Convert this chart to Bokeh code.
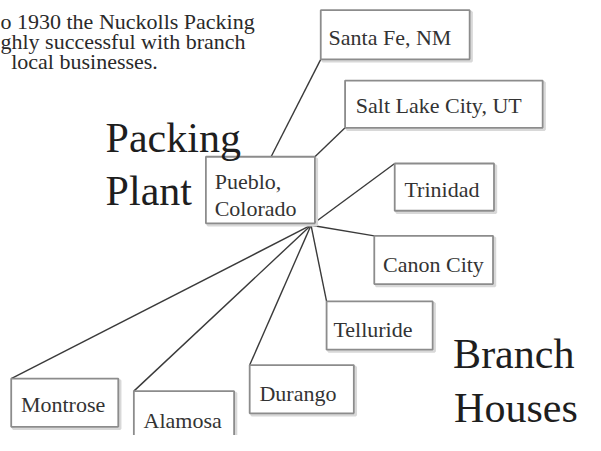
from bokeh.plotting import figure
from bokeh.models import Range1d
from bokeh.core.properties import value
from bokeh.embed import file_html
from bokeh.resources import INLINE

# --- data (diagram layout, image pixel coordinates) ---
intro_lines = ["o 1930 the Nuckolls Packing", "ghly successful with branch", "local businesses."]
intro_x = [0, 0, 11]
intro_y = [22, 43, 63]

big_titles = ["Packing", "Plant", "Branch", "Houses"]
big_x = [108, 108, 465, 466]
big_y = [143, 197, 367, 422]

hub_lines = ["Pueblo,", "Colorado"]
hub_box = dict(left=211, right=323, top=162, bottom=231)
hub_text_x = [220, 220]
hub_text_y = [188, 216]

branches = ["Santa Fe, NM", "Salt Lake City, UT", "Trinidad", "Canon City",
            "Telluride", "Montrose", "Alamosa", "Durango"]
box_left = [329, 354, 405, 384, 335, 11, 137, 256]
box_right = [482, 557, 507, 506, 444, 121, 240, 363]
box_top = [10, 83, 169, 244, 312, 392, 405, 378]
box_bottom = [61, 132, 218, 294, 362, 442, 462, 428]
label_x = [337, 365, 415, 393, 342, 21, 147, 266]
label_y = [38, 109, 196, 274, 341, 419, 435, 407]
# connector start (on hub side) and end (on branch box)
conn_x0 = [278, 323, 319, 319, 319, 319, 319, 319]
conn_y0 = [162, 162, 233, 233, 233, 233, 233, 233]
conn_x1 = [329, 354, 405, 384, 335, 11, 137, 256]
conn_y1 = [61, 132, 169, 244, 312, 392, 405, 378]

SERIF = value("Liberation Serif")

p = figure(width=585, height=435, output_backend="svg", toolbar_location=None,
           x_range=Range1d(0, 601), y_range=Range1d(451, 0),
           min_border=0, min_border_left=0, min_border_right=0,
           min_border_top=0, min_border_bottom=0)
p.axis.visible = False
p.grid.visible = False
p.outline_line_color = None
p.background_fill_color = "white"
p.border_fill_color = "white"

# connectors
p.segment(x0=conn_x0, y0=conn_y0, x1=conn_x1, y1=conn_y1,
          line_color="#3a3a3a", line_width=1.4)

# box shadows
all_l = box_left + [hub_box["left"]]
all_r = box_right + [hub_box["right"]]
all_t = box_top + [hub_box["top"]]
all_b = box_bottom + [hub_box["bottom"]]
p.quad(left=[v + 2 for v in all_l], right=[v + 2 for v in all_r],
       top=[v + 2 for v in all_t], bottom=[v + 2 for v in all_b],
       fill_color=None, line_color="#d8d8d8", line_width=2.5)
# boxes
p.quad(left=all_l, right=all_r, top=all_t, bottom=all_b,
       fill_color="white", line_color="#8c8c8c", line_width=1.8)

# labels
p.text(x=label_x, y=label_y, text=branches, text_font=SERIF,
       text_font_size="22px", text_color="#333333", text_baseline="alphabetic")
p.text(x=hub_text_x, y=hub_text_y, text=hub_lines, text_font=SERIF,
       text_font_size="22px", text_color="#333333", text_baseline="alphabetic")

# big titles
p.text(x=big_x, y=big_y, text=big_titles, text_font=SERIF,
       text_font_size="42px", text_color="#1e1e1e", text_baseline="alphabetic")

# intro paragraph
p.text(x=intro_x, y=intro_y, text=intro_lines, text_font=SERIF,
       text_font_size="22px", text_color="#2a2a2a", text_baseline="alphabetic")

open("out.html", "w").write(file_html(p, INLINE))
